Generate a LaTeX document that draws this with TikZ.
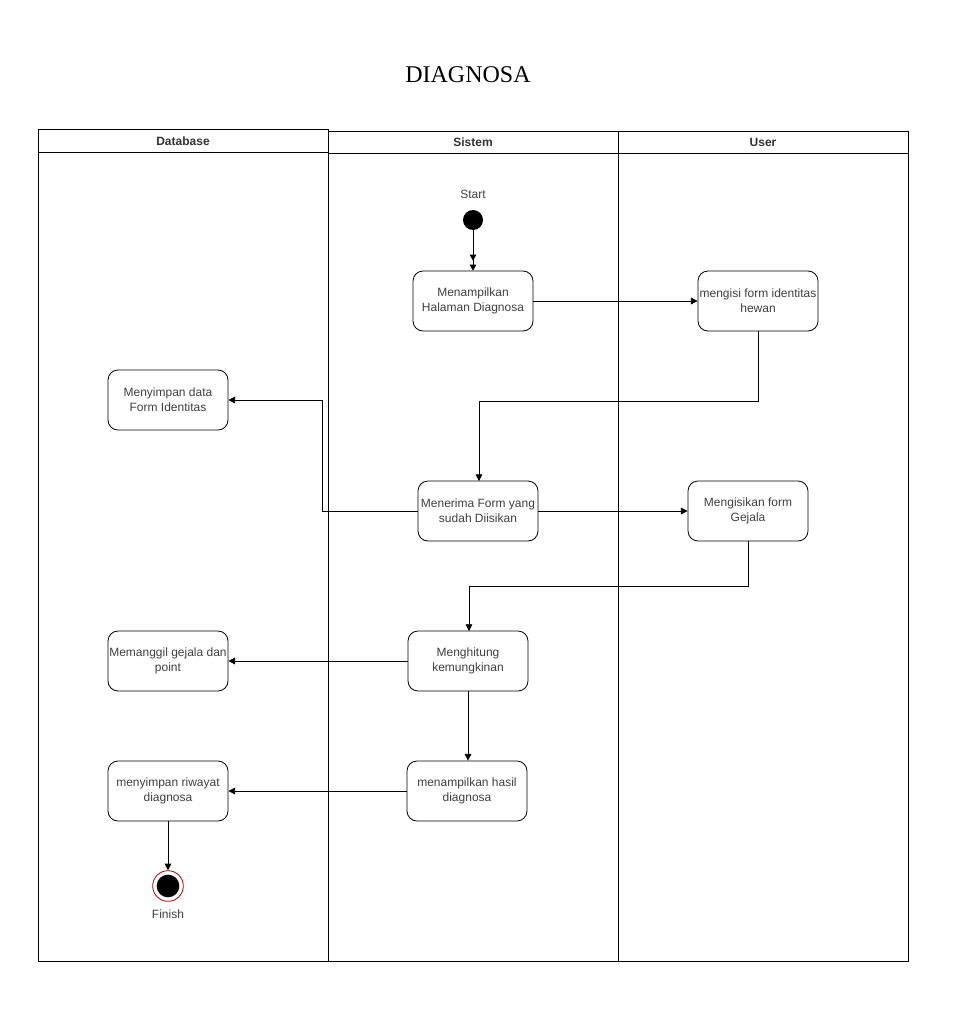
\documentclass[tikz,border=0pt]{standalone}
\usepackage{fontspec}
\setmainfont{Liberation Sans}
\newfontfamily\titlefont{Liberation Serif}
\usetikzlibrary{arrows.meta}
\begin{document}
\begin{tikzpicture}[x=0.75pt,y=-0.75pt,
  act/.style={draw, rounded corners=7.5pt, minimum width=90pt, minimum height=45pt, inner xsep=0.3pt, align=center, font=\fontsize{9}{11}\selectfont, text=black!75, line width=0.6pt},
  lanehead/.style={font=\bfseries\fontsize{9}{11}\selectfont, text=black!80},
  flow/.style={-{Triangle[length=5pt,width=5pt]}, line width=0.6pt},
  lbl/.style={font=\fontsize{9}{11}\selectfont, text=black!75}]
\useasboundingbox (0,0) rectangle (968,1035);
\fill[white] (0,0) rectangle (968,1035);
% title
\node[font=\titlefont\fontsize{18}{21}\selectfont] (title) at (468,75) {DIAGNOSA};
% lanes
\draw[line width=0.6pt] (38,129) rectangle (328,961);
\draw[line width=0.6pt] (38,152) -- (328,152);
\draw[line width=0.6pt] (328,131) rectangle (618,961);
\draw[line width=0.6pt] (328,153) -- (618,153);
\draw[line width=0.6pt] (618,131) rectangle (908,961);
\draw[line width=0.6pt] (618,153) -- (908,153);
\node[lanehead] (hdb) at (183,141) {Database};
\node[lanehead] (hsys) at (473,142) {Sistem};
\node[lanehead] (husr) at (763,142) {User};
% start
\node[lbl] (startlbl) at (473,194) {Start};
\node[circle, fill=black, minimum size=15pt, inner sep=0pt] (start) at (473,220) {};
% activities
\node[act] (b1) at (473,301) {Menampilkan\\Halaman Diagnosa};
\node[act] (b2) at (758,301) {mengisi form identitas\\hewan};
\node[act] (b3) at (168,400) {Menyimpan data\\Form Identitas};
\node[act] (b4) at (478,511) {Menerima Form yang\\sudah Diisikan};
\node[act] (b5) at (748,511) {Mengisikan form\\Gejala};
\node[act] (b6) at (468,661) {Menghitung\\kemungkinan};
\node[act] (b7) at (168,661) {Memanggil gejala dan\\point};
\node[act] (b8) at (467,791) {menampilkan hasil\\diagnosa};
\node[act] (b9) at (168,791) {menyimpan riwayat\\diagnosa};
% finish
\node[circle, draw=red!70!black, fill=white, line width=0.6pt, minimum size=23pt, inner sep=0pt] (fin) at (168,886) {};
\node[circle, fill=black, minimum size=17pt, inner sep=0pt] (finin) at (fin.center) {};
\node[lbl] (finlbl) at (168,914) {Finish};
% flows
\draw[-{Triangle[length=4.5pt,width=5pt,sep=3pt]Triangle[length=4.5pt,width=5pt]}, line width=0.6pt] (start.south) -- (b1.north);
\draw[flow] (b1.east) -- (b2.west);
\draw[flow] (b2.south) -- (758,401) -- (479,401) -- (479,481);
\draw[flow] (b4.west) -- (322,511) -- (322,400) -- (b3.east);
\draw[flow] (b4.east) -- (b5.west);
\draw[flow] (b5.south) -- (748,586) -- (469,586) -- (469,631);
\draw[flow] (b6.west) -- (b7.east);
\draw[flow] (b6.south) -- (b6.south |- b8.north);
\draw[flow] (b8.west) -- (b9.east);
\draw[flow] (b9.south) -- (fin.north);
\end{tikzpicture}
\end{document}
